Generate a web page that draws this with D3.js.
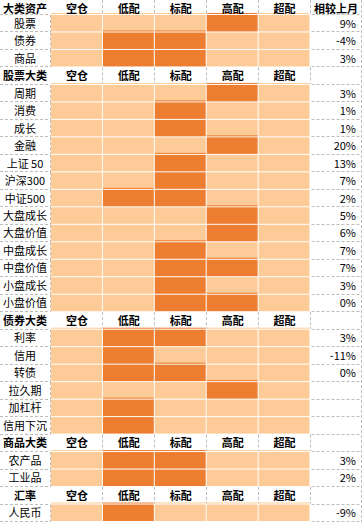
<!DOCTYPE html>
<html><head><meta charset="utf-8">
<script src="https://cdn.jsdelivr.net/npm/d3@7/dist/d3.min.js"></script>
<style>html,body{margin:0;padding:0;background:#fff;}svg{display:block;}</style>
</head><body>
<script>
// ---- data ----
const levels = ["空仓","低配","标配","高配","超配"];
const changeTitle = "相较上月";
const groupTitles = ["大类资产","股票大类","债券大类","商品大类","汇率"];

const majorNames  = ["股票","债券","商品"];
const majorRange  = [[3,3],[1,2],[1,2]];
const majorChange = [9,-4,3];

const equityNames  = ["周期","消费","成长","金融","上证 50","沪深300","中证500","大盘成长","大盘价值","中盘成长","中盘价值","小盘成长","小盘价值"];
const equityRange  = [[3,3],[2,2],[2,2],[3,3],[2,2],[2,2],[1,2],[3,3],[3,3],[2,2],[2,3],[2,2],[2,3]];
const equityChange = [3,1,1,20,13,7,2,5,6,7,7,3,0];

const bondNames  = ["利率","信用","转债","拉久期","加杠杆","信用下沉"];
const bondRange  = [[1,2],[1,1],[1,2],[3,3],[1,1],[1,1]];
const bondChange = [3,-11,0,null,null,null];

const commodityNames  = ["农产品","工业品"];
const commodityRange  = [[1,2],[1,2]];
const commodityChange = [3,2];

const fxNames  = ["人民币"];
const fxRange  = [[1,1]];
const fxChange = [-9];

// ---- build rows ----
const groups = [
  [majorNames, majorRange, majorChange],
  [equityNames, equityRange, equityChange],
  [bondNames, bondRange, bondChange],
  [commodityNames, commodityRange, commodityChange],
  [fxNames, fxRange, fxChange]
];
const rows = [];
groups.forEach((g, gi) => {
  rows.push({header: true, name: groupTitles[gi]});
  g[0].forEach((n, i) => rows.push({header: false, name: n, range: g[1][i], change: g[2][i]}));
});

const W = 362, H = 525;
const light = "#FDCB97", dark = "#ED7D31", gridC = "#bdbdbd";
const font = "'Noto Sans CJK SC','Microsoft YaHei',sans-serif";

const svg = d3.select("body").append("svg").attr("width", W).attr("height", H);

const y = d3.scaleBand().domain(d3.range(rows.length)).range([-2.5, 522]);
const rh = y.bandwidth();
const x = d3.scaleBand().domain(levels).range([51, 310.5]);
const bw = x.bandwidth();
const labelW = 51, chgX0 = 310.5, chgX1 = 361.5;

const isDark = (r, li) => !r.header && li >= r.range[0] && li <= r.range[1];

// cells
rows.forEach((r, ri) => {
  if (r.header) return;
  const top = y(ri);
  levels.forEach((l, li) => {
    const d = isDark(r, li);
    svg.append("rect").attr("x", x(l)).attr("y", top).attr("width", bw - 1).attr("height", rh - 1)
      .attr("fill", d ? dark : light);
    const above = rows[ri - 1];
    if (above.header || (d && !isDark(above, li))) {
      svg.append("rect").attr("x", x(l)).attr("y", top - 2).attr("width", bw - 1).attr("height", 1)
        .attr("fill", d ? dark : light);
    }
  });
});

// dashed grid
const g = svg.append("g").attr("stroke", gridC).attr("stroke-width", 1).attr("stroke-dasharray", "3,2").attr("fill", "none");
rows.forEach((r, ri) => {
  const top = y(ri), bot = Math.round(top + rh) - 0.5;
  g.append("line").attr("x1", 0).attr("x2", labelW - 1).attr("y1", bot).attr("y2", bot);
  g.append("line").attr("x1", chgX0 + 1).attr("x2", chgX1).attr("y1", bot).attr("y2", bot);
  if (r.header) {
    levels.slice(1).forEach(l => {
      const xx = Math.round(x(l)) - 0.5;
      g.append("line").attr("x1", xx).attr("x2", xx).attr("y1", Math.max(0, top)).attr("y2", top + rh - 1);
    });
    g.append("line").attr("x1", chgX0).attr("x2", chgX0).attr("y1", Math.max(0, top)).attr("y2", top + rh - 1);
  } else {
    g.append("line").attr("x1", 50.5).attr("x2", 50.5).attr("y1", top).attr("y2", top + rh);
  }
});
g.append("line").attr("x1", chgX1).attr("x2", chgX1).attr("y1", 0).attr("y2", 522);

// text
const t = svg.append("g").attr("font-family", font).attr("font-size", 11).attr("fill", "#000");
rows.forEach((r, ri) => {
  const cy = y(ri) + rh / 2 + (ri === 0 ? 2.7 : 0);
  t.append("text").attr("x", labelW / 2 - 0.5).attr("y", cy).attr("dy", "0.36em")
    .attr("text-anchor", "middle").attr("font-weight", r.header ? "bold" : "normal").text(r.name);
  if (r.header) {
    levels.forEach(l => {
      t.append("text").attr("x", x(l) + bw / 2).attr("y", cy).attr("dy", "0.36em")
        .attr("text-anchor", "middle").attr("font-weight", "bold").text(l);
    });
    if (ri === 0) {
      t.append("text").attr("x", (chgX0 + chgX1) / 2).attr("y", cy).attr("dy", "0.36em")
        .attr("text-anchor", "middle").attr("font-weight", "bold").text(changeTitle);
    }
  } else if (r.change !== null) {
    t.append("text").attr("x", 356).attr("y", cy).attr("dy", "0.36em")
      .attr("text-anchor", "end").text(r.change + "%");
  }
});
</script>
</body></html>
